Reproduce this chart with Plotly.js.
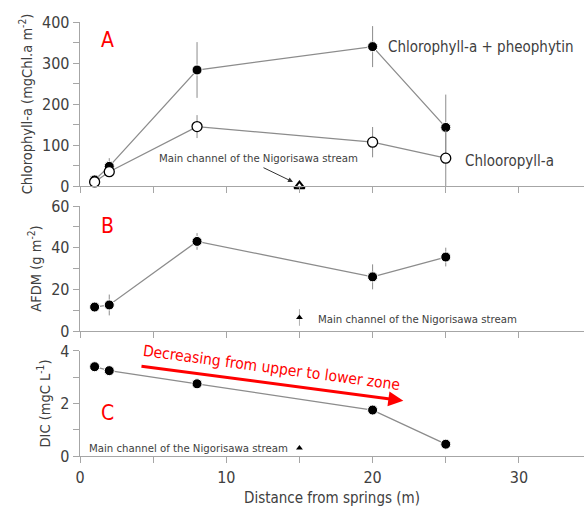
<!DOCTYPE html>
<html><head><meta charset="utf-8">
<script src="https://cdn.plot.ly/plotly-3.0.1.min.js"></script>
<style>html,body{margin:0;padding:0;background:#fff}#chart{width:584px;height:507px}</style>
</head><body><div id="chart"></div>
<script>
// Distances from springs (m)
const distance = [1, 2, 8, 20, 25];
// Panel A
const chlPheo = [15, 48, 283, 340, 143];
const chlPheoErr = [5, 20, 68, 50, 80];
const chlA = [10, 35, 145, 107, 68];
const chlAErr = [4, 12, 28, 37, 68];
const mainX = [15];
const mainChlA = [0];
// Panel B
const afdm = [11.5, 12.5, 43, 26, 35.5];
const afdmErr = [2, 5, 4, 6, 4.5];
const mainAfdm = [6.5];
const mainAfdmErr = [4];
// Panel C
const dic = [3.4, 3.25, 2.75, 1.75, 0.45];
const mainDic = [0.3];

const FONT = "DejaVu Sans Condensed, DejaVu Sans, sans-serif";
const LINE = '#8c8c8c';
const AX = '#a6a6a6';
const TXT = '#404040';

function filled(x, y, err, xa, ya) {
  return {x, y, xaxis: xa, yaxis: ya, type: 'scatter', mode: 'lines+markers', cliponaxis: false,
    line: {color: LINE, width: 1.3},
    marker: {color: '#000', size: 10, line: {color: '#fff', width: 1}},
    error_y: err ? {type: 'data', array: err, visible: true, color: LINE, thickness: 1, width: 0} : undefined,
    showlegend: false, hoverinfo: 'skip'};
}

const traces = [
  filled(distance, chlPheo, chlPheoErr, 'x', 'y'),
  {x: distance, y: chlA, xaxis: 'x', yaxis: 'y', type: 'scatter', mode: 'lines+markers', cliponaxis: false,
   line: {color: LINE, width: 1.3},
   marker: {color: '#fff', size: 10, line: {color: '#000', width: 1.3}},
   error_y: {type: 'data', array: chlAErr, visible: true, color: LINE, thickness: 1, width: 0},
   showlegend: false, hoverinfo: 'skip'},
  {x: mainX, y: mainChlA, xaxis: 'x', yaxis: 'y', type: 'scatter', mode: 'markers', cliponaxis: false,
   marker: {symbol: 'triangle-up-open', color: '#000', size: 9, line: {width: 2}},
   showlegend: false, hoverinfo: 'skip'},
  filled(distance, afdm, afdmErr, 'x2', 'y2'),
  {x: mainX, y: mainAfdm, xaxis: 'x2', yaxis: 'y2', type: 'scatter', mode: 'markers', cliponaxis: false,
   marker: {symbol: 'triangle-up', color: '#000', size: 6},
   error_y: {type: 'data', array: mainAfdmErr, visible: true, color: '#b0b0b0', thickness: 1, width: 0},
   showlegend: false, hoverinfo: 'skip'},
  filled(distance, dic, null, 'x3', 'y3'),
  {x: mainX, y: mainDic, xaxis: 'x3', yaxis: 'y3', type: 'scatter', mode: 'markers', cliponaxis: false,
   marker: {symbol: 'triangle-up', color: '#000', size: 6},
   showlegend: false, hoverinfo: 'skip'}
];

const xBase = {range: [0, 34.45], showgrid: false, zeroline: false, showline: true, linecolor: AX, linewidth: 1.3,
  ticks: 'outside', ticklen: 6, tickcolor: AX, tickvals: [0,5,10,15,20,25,30], fixedrange: true,
  tickfont: {family: FONT, size: 16, color: TXT}};
function yBase(range, vals, texts, title, dom) {
  return {range, domain: dom, showgrid: false, zeroline: false, showline: true, linecolor: AX, linewidth: 1.3,
    ticks: 'outside', ticklen: 6, tickcolor: AX, tickvals: vals, ticktext: texts,
    tickfont: {family: FONT, size: 16, color: TXT},
    title: {text: title, font: {family: FONT, size: 14.5, color: TXT}, standoff: 6}};
}

const layout = {
  width: 584, height: 507,
  margin: {l: 80, r: 0, t: 22, b: 51},
  paper_bgcolor: '#fff', plot_bgcolor: '#fff',
  font: {family: FONT, color: TXT},
  xaxis: Object.assign({}, xBase, {anchor: 'y', showticklabels: false}),
  xaxis2: Object.assign({}, xBase, {anchor: 'y2', showticklabels: false}),
  xaxis3: Object.assign({}, xBase, {anchor: 'y3', ticktext: ['0','','10','','20','','30'],
    title: {text: 'Distance from springs (m)', font: {family: FONT, size: 15, color: TXT}, standoff: 7}}),
  yaxis: yBase([0, 400], [0,50,100,150,200,250,300,350,400], ['0','','100','','200','','300','','400'],
    'Chlorophyll-a (mgChl.a m<sup>-2</sup>)', [0.622, 1]),
  yaxis2: yBase([0, 60], [0,10,20,30,40,50,60], ['0','','20','','40','','60'],
    'AFDM (g m<sup>-2</sup>)', [0.288, 0.576]),
  yaxis3: yBase([0, 4], [0,1,2,3,4], ['0','','2','','4'],
    'DIC (mgC L<sup>-1</sup>)', [0, 0.242]),
  annotations: [
    {xref: 'x', yref: 'y', x: 1.85, y: 356, text: 'A', showarrow: false, font: {family: FONT, size: 21, color: '#ff0000'}},
    {xref: 'x2', yref: 'y2', x: 1.85, y: 50.5, text: 'B', showarrow: false, font: {family: FONT, size: 21, color: '#ff0000'}},
    {xref: 'x3', yref: 'y3', x: 1.85, y: 1.64, text: 'C', showarrow: false, font: {family: FONT, size: 21, color: '#ff0000'}},
    {xref: 'x', yref: 'y', x: 20.9, y: 339, xanchor: 'left', text: 'Chlorophyll-a + pheophytin', showarrow: false, font: {family: FONT, size: 15, color: TXT}},
    {xref: 'x', yref: 'y', x: 26.2, y: 61, xanchor: 'left', text: 'Chlooropyll-a', showarrow: false, font: {family: FONT, size: 15, color: TXT}},
    {xref: 'x', yref: 'y', x: 12.17, y: 68, text: 'Main channel of the Nigorisawa stream', showarrow: false, font: {family: FONT, size: 11.3, color: TXT}},
    {xref: 'x', yref: 'y', x: 14.56, y: 10, ax: -31, ay: -15, text: '', showarrow: true, arrowhead: 2, arrowsize: 1, arrowwidth: 1, arrowcolor: '#333'},
    {xref: 'x2', yref: 'y2', x: 16.1, y: 5.3, xanchor: 'left', text: 'Main channel of the Nigorisawa stream', showarrow: false, font: {family: FONT, size: 11.3, color: TXT}},
    {xref: 'x3', yref: 'y3', x: 14.35, y: 0.3, xanchor: 'right', text: 'Main channel of the Nigorisawa stream', showarrow: false, font: {family: FONT, size: 11.3, color: TXT}},
    {xref: 'x3', yref: 'y3', axref: 'x3', ayref: 'y3', x: 22.1, y: 2.1, ax: 4.1, ay: 3.43, text: '', showarrow: true,
     arrowhead: 2, arrowsize: 1, arrowwidth: 3, arrowcolor: '#ff0000'},
    {xref: 'x3', yref: 'y3', x: 13.1, y: 3.37, text: 'Decreasing from upper to lower zone', textangle: 7.6, showarrow: false,
     font: {family: FONT, size: 15.5, color: '#ff0000'}}
  ]
};

Plotly.newPlot('chart', traces, layout, {staticPlot: true, displayModeBar: false});
</script></body></html>
